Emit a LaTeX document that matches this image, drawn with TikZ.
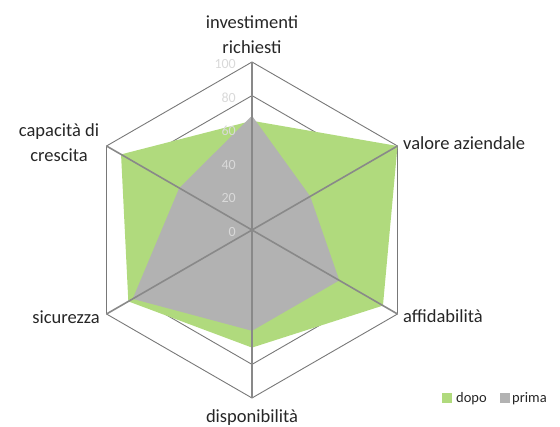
\documentclass[tikz,border=0pt]{standalone}
\usepackage{fontspec}
\setmainfont{Carlito}
\definecolor{dopoc}{RGB}{176,218,125}
\definecolor{primac}{RGB}{178,178,178}
\definecolor{ringc}{RGB}{120,120,120}
\definecolor{spokec}{RGB}{137,137,137}
\definecolor{tickc}{RGB}{217,217,217}
\definecolor{labc}{RGB}{38,38,38}
\begin{document}
\begin{tikzpicture}[x=1pt,y=1pt,
  ring/.style={draw=ringc, line width=0.9pt, line join=miter},
  spoke/.style={draw=spokec, line width=1.6pt},
  ticklab/.style={text=tickc, font=\fontsize{14}{14}\selectfont, anchor=east, inner sep=0pt},
  axlab/.style={text=labc, font=\fontsize{18.5}{25}\selectfont, inner sep=0pt},
  legtext/.style={text=labc, font=\fontsize{14.5}{15}\selectfont, anchor=base west, inner sep=0pt},
  legbox/.style={inner sep=0pt, minimum size=9.5pt},
  ]
\useasboundingbox (0,0) rectangle (560,-427);
\coordinate (O) at (252,-230);
\begin{scope}[shift={(O)}]
  % rings
  \foreach \v in {20,40,60,80,100}{
    \pgfmathsetmacro\r{1.68*\v}
    \draw[ring] (90:\r) -- (30:\r) -- (-30:\r) -- (-90:\r) -- (-150:\r) -- (150:\r) -- cycle;
  }
  % axis ends
  \foreach \a [count=\i] in {90,30,-30,-90,-150,150}{
    \coordinate (a\i) at (\a:168);
  }
  % dopo
  \foreach \a/\v [count=\i] in {90/65,30/100,-30/90,-90/70,-150/85,150/90}{
    \pgfmathsetmacro\r{1.68*\v}
    \coordinate (d\i) at (\a:\r);
  }
  % prima
  \foreach \a/\v [count=\i] in {90/68,30/40,-30/60,-90/60,-150/82,150/50}{
    \pgfmathsetmacro\r{1.68*\v}
    \coordinate (p\i) at (\a:\r);
  }
\end{scope}
\fill[dopoc] (d1) -- (d2) -- (d3) -- (d4) -- (d5) -- (d6) -- cycle;
\fill[primac] (p1) -- (p2) -- (p3) -- (p4) -- (p5) -- (p6) -- cycle;
\foreach \i in {1,...,6}{ \draw[spoke] (O) -- (a\i); }
% tick labels
\foreach \v in {0,20,40,60,80,100}{
  \node[ticklab] (t\v) at (236,{-230+1.68*\v-2}) {\v};
}
% axis labels
\node[axlab, anchor=base] (inv1) at (252,-29) {investimenti};
\node[axlab, anchor=base] (inv2) at (252,-54) {richiesti};
\node[axlab, anchor=base west] (val) at (403,-150) {valore aziendale};
\node[axlab, anchor=base west] (aff) at (403,-323) {affidabilità};
\node[axlab, anchor=base] (dis) at (252,-423) {disponibilità};
\node[axlab, anchor=base east] (sic) at (100,-324) {sicurezza};
\node[axlab, anchor=base] (cap1) at (59,-137) {capacità di};
\node[axlab, anchor=base] (cap2) at (59,-162) {crescita};
% legend
\node[legbox, fill=dopoc, anchor=south west] (ld) at (442,-403) {};
\node[legtext] (ldt) at (456,-403) {dopo};
\node[legbox, fill=primac, anchor=south west] (lp) at (500,-403) {};
\node[legtext] (lpt) at (512,-403) {prima};
\end{tikzpicture}
\end{document}
